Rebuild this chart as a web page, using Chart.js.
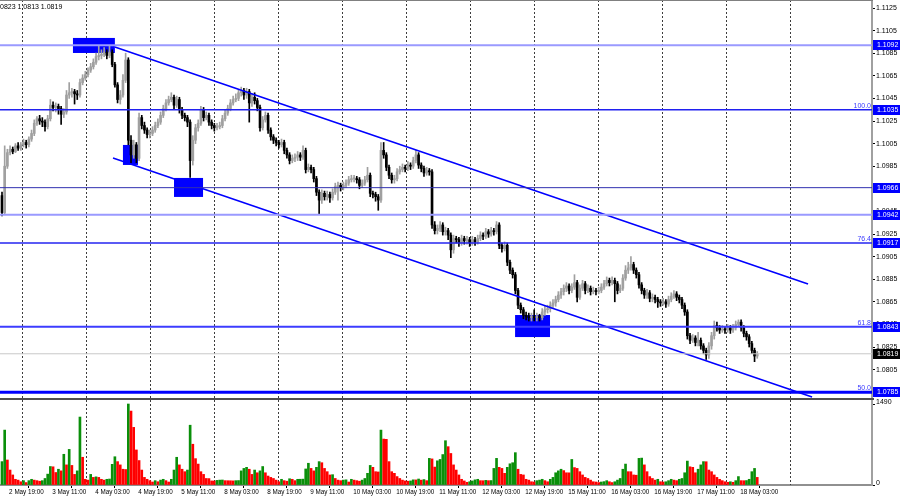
<!DOCTYPE html>
<html>
<head>
<meta charset="utf-8">
<script src="https://cdn.jsdelivr.net/npm/chart.js@4.4.0/dist/chart.umd.min.js"></script>
<style>
  html, body { margin: 0; padding: 0; background: #fff; }
  #wrap { position: relative; width: 900px; height: 500px; overflow: hidden; background: #fff; }
  #price { position: absolute; left: 0; top: 0; }
  #volume { position: absolute; left: 0; top: 398px; }
</style>
</head>
<body>
<div id="wrap">
  <canvas id="price" width="900" height="398"></canvas>
  <canvas id="volume" width="900" height="102"></canvas>
</div>
<script>
// EURUSD H1, one bar per hour from 2 May 17:00 to 18 May 10:00
// prices are kept in pips above 1.0000 (944 -> 1.0944)
const firstOpen = 959
const closePips = [
  944,985,997,1000,998,1003,1001,1004,1006,1004,
  1009,1014,1023,1027,1025,1024,1020,1027,1039,1037,
  1038,1036,1031,1033,1048,1050,1051,1049,1048,1059,
  1063,1066,1070,1073,1077,1082,1083,1084,1086,1083,
  1086,1075,1057,1044,1048,1061,1079,1008,995,1004,
  992,1028,1021,1017,1013,1014,1017,1021,1024,1030,
  1036,1041,1044,1046,1039,1044,1035,1030,1028,1024,
  990,1008,1019,1023,1035,1028,1030,1024,1021,1019,
  1020,1021,1027,1032,1036,1041,1044,1045,1050,1052,
  1048,1051,1041,1046,1043,1037,1019,1026,1030,1017,
  1011,1008,1006,1004,1006,999,995,990,992,993,
  995,993,999,982,984,982,974,962,955,961,
  958,960,957,962,967,968,966,968,970,973,
  974,974,973,968,970,973,977,961,960,958,
  955,999,995,984,977,973,974,980,982,984,
  983,986,985,990,995,986,983,979,981,980,
  933,928,930,933,927,928,924,911,921,920,
  917,921,919,920,917,920,918,921,924,923,
  927,925,928,927,933,915,912,915,900,893,
  889,875,862,858,853,852,851,852,851,852,
  851,856,858,859,862,864,867,871,874,877,
  879,875,878,882,869,877,881,875,877,874,
  875,874,875,878,881,884,882,884,881,875,
  877,886,893,895,898,893,889,880,875,871,
  873,868,869,867,865,864,865,863,867,870,
  872,869,867,862,856,835,831,833,829,831,
  826,822,818,826,835,844,842,840,841,840,
  842,840,842,845,847,842,837,834,828,822,
  817,819
]
const highPips = [
  962,1003,1000,1003,1002,1005,1006,1006,1009,1008,
  1011,1017,1026,1029,1030,1028,1026,1030,1044,1042,
  1041,1040,1038,1036,1052,1059,1054,1053,1052,1062,
  1066,1069,1072,1076,1080,1085,1092,1088,1090,1088,
  1092,1088,1077,1059,1052,1066,1085,1081,1012,1008,
  1006,1032,1030,1024,1019,1017,1020,1024,1027,1033,
  1039,1044,1047,1050,1048,1047,1046,1037,1032,1030,
  1026,1012,1022,1026,1038,1037,1033,1032,1026,1023,
  1023,1024,1030,1035,1039,1044,1047,1049,1053,1055,
  1054,1054,1053,1049,1050,1045,1039,1029,1033,1032,
  1019,1013,1010,1008,1009,1008,1001,997,995,996,
  998,997,1003,1001,987,986,984,976,964,964,
  963,963,962,965,970,971,970,971,973,976,
  977,977,976,975,973,976,984,979,963,962,
  960,1006,1006,997,986,979,977,983,985,987,
  986,989,988,993,999,997,988,985,984,983,
  982,936,933,936,935,931,930,926,924,923,
  922,924,923,923,922,923,922,924,927,926,
  930,929,931,930,936,935,917,918,917,902,
  895,891,877,864,860,856,855,855,858,855,
  854,859,861,862,865,867,870,874,877,880,
  882,881,881,889,884,880,884,883,880,879,
  878,877,878,881,884,887,886,887,886,883,
  880,889,897,900,905,900,895,891,882,877,
  876,875,872,871,869,867,868,867,870,873,
  875,874,871,869,864,858,837,836,835,838,
  833,828,824,829,838,848,847,844,844,843,
  845,844,845,848,849,849,844,839,836,830,
  824,821
]
const lowPips = [
  941,942,983,995,996,997,999,999,1002,1001,
  1002,1007,1012,1021,1022,1020,1016,1018,1025,1034,
  1033,1031,1022,1028,1031,1045,1046,1040,1044,1046,
  1057,1061,1064,1068,1071,1075,1079,1080,1082,1080,
  1081,1073,1055,1041,1040,1046,1059,1004,988,992,
  988,990,1018,1014,1010,1010,1012,1015,1019,1022,
  1028,1034,1039,1042,1036,1037,1032,1027,1025,1020,
  975,986,1005,1016,1021,1025,1026,1021,1018,1016,
  1017,1018,1019,1025,1030,1034,1039,1042,1043,1047,
  1044,1045,1024,1038,1040,1034,1016,1017,1024,1014,
  1008,1005,1003,1001,1002,996,992,987,988,989,
  990,990,991,979,980,979,971,959,943,952,
  955,955,953,955,960,955,963,964,966,968,
  971,971,970,965,966,968,971,958,957,954,
  946,953,992,981,974,970,970,972,978,980,
  980,981,982,983,988,983,980,976,977,977,
  930,925,925,927,924,924,920,904,908,917,
  914,915,916,916,914,915,915,916,919,920,
  921,922,923,924,925,912,909,910,897,890,
  886,872,859,855,850,849,848,848,848,848,
  848,849,853,855,856,859,861,865,868,871,
  874,872,873,876,865,867,875,872,873,871,
  872,871,872,873,876,879,879,880,865,872,
  873,875,884,890,893,890,886,877,872,868,
  868,865,865,864,860,861,862,860,861,865,
  868,866,864,859,853,832,828,829,826,826,
  823,819,814,815,823,832,839,837,838,837,
  838,837,838,840,843,839,834,831,825,819,
  812,815
]
const volumes = [
  430,1010,460,275,185,105,90,60,80,45,
  80,105,90,80,70,80,120,200,340,335,
  230,290,260,565,370,655,360,195,260,1250,
  510,105,90,195,140,150,140,105,90,105,
  110,380,520,430,370,290,285,1490,1360,1060,
  645,450,275,140,105,80,55,80,60,90,
  105,80,55,105,275,510,370,290,245,275,
  1100,750,485,385,245,195,120,118,75,74,
  85,90,92,80,79,78,76,80,82,260,
  305,325,290,195,275,225,260,340,225,165,
  140,120,90,60,105,80,70,115,105,80,
  105,106,108,295,400,305,260,325,430,410,
  305,245,185,190,120,90,80,90,95,55,
  105,90,80,70,90,120,215,360,325,245,
  240,1010,845,840,430,245,215,155,120,90,
  75,70,75,95,94,110,90,100,80,490,
  480,330,445,470,560,815,705,580,370,275,
  185,105,75,50,60,75,95,105,80,79,
  85,80,82,305,490,325,305,215,325,390,
  410,595,290,195,185,105,90,60,55,80,
  90,105,80,60,105,140,225,260,290,265,
  225,224,470,320,305,245,185,140,120,90,
  60,55,45,55,62,80,60,45,60,90,
  120,290,385,245,244,185,180,490,495,370,
  245,155,120,90,105,60,55,60,80,105,
  90,80,105,120,225,440,335,325,225,290,
  370,430,428,275,245,185,140,105,80,60,
  50,60,50,80,155,80,79,82,105,245,
  305,140
]
const timeLabels = ['2 May 19:00', '3 May 11:00', '4 May 03:00', '4 May 19:00', '5 May 11:00',
  '8 May 03:00', '8 May 19:00', '9 May 11:00', '10 May 03:00', '10 May 19:00', '11 May 11:00',
  '12 May 03:00', '12 May 19:00', '15 May 11:00', '16 May 03:00', '16 May 19:00',
  '17 May 11:00', '18 May 03:00']
const priceTicks = [1.1125, 1.1105, 1.1085, 1.1065, 1.1045, 1.1025, 1.1005, 1.0985, 1.0965,
  1.0945, 1.0925, 1.0905, 1.0885, 1.0865, 1.0845, 1.0825, 1.0805, 1.0785]
const volumeTicks = [0, 1490]
const levels = [1.1092, 1.1035, 1.0966, 1.0942, 1.0917, 1.0843, 1.0819, 1.0785]
const fiboTags = ['', '100.0', '', '', '76.4', '61.8', '', '50.0']
// trend channel, [bar, price] end points
const channelTop = [[42.0, 1.10905], [299.9, 1.08808]]
const channelBottom = [[41.3, 1.09923], [301.4, 1.07808]]
// marked zones: [from bar, to bar, top price, bottom price]
const zones = [
  [26.4, 42.0, 1.10985, 1.10852],
  [45.0, 50.6, 1.10038, 1.09861],
  [64.0, 74.8, 1.09746, 1.09578],
  [190.9, 203.9, 1.08533, 1.08338]
]
const quoteLine = '0823 1.0813 1.0819'

// styling
const levelColors = ['#9a9aff', '#2020f0', '#3030b0', '#9a9aff', '#2525f0', '#3c3cff', '#c8c8c8', '#0000ff']
const levelWidths = [2, 1.5, 1, 2, 1.5, 2, 1, 3]
const levelBoxColors = ['#0000ff', '#0000ff', '#0000ff', '#0000ff', '#0000ff', '#0000ff', '#000000', '#0000ff']
const BULL = '#a0a0a0'
const BEAR = '#000000'
const VOL_UP = '#0a8f0a'
const VOL_DOWN = '#ff0000'
const FONT = 'Liberation Sans'

Chart.defaults.font.family = FONT
Chart.defaults.font.size = 7
Chart.defaults.color = '#000'

const toPrice = p => 1 + p / 10000
const opens = closePips.map((c, i) => i === 0 ? firstOpen : closePips[i - 1])
const candleColors = closePips.map((c, i) => c >= opens[i] ? BULL : BEAR)
const volColors = volumes.map((v, i) => i === 0 || v > volumes[i - 1] ? VOL_UP : VOL_DOWN)

const X_MIN = -0.744
const X_MAX = 323.7

function noPad(s) {
  s.paddingTop = 0
  s.paddingBottom = 0
  s.paddingLeft = 0
  s.paddingRight = 0
}

function drawGrid(ctx, area, x) {
  ctx.save()
  ctx.strokeStyle = '#3c3c3c'
  ctx.lineWidth = 1
  ctx.setLineDash([2, 2])
  for (let k = 0; k < 13; k++) {
    const px = Math.round(x.getPixelForValue(7.44 + 23.81 * k)) + 0.5
    ctx.beginPath()
    ctx.moveTo(px, area.top)
    ctx.lineTo(px, area.bottom)
    ctx.stroke()
  }
  ctx.restore()
}

const priceOverlay = {
  id: 'priceOverlay',
  beforeDatasetsDraw(chart) {
    const { ctx, chartArea: a, scales: { x, y } } = chart
    drawGrid(ctx, a, x)
    ctx.save()
    ctx.fillStyle = '#0000ff'
    zones.forEach(([b0, b1, hi, lo]) => {
      const x0 = x.getPixelForValue(b0)
      const x1 = x.getPixelForValue(b1)
      const y0 = y.getPixelForValue(hi)
      const y1 = y.getPixelForValue(lo)
      ctx.fillRect(x0, y0, x1 - x0, y1 - y0)
    })
    ctx.restore()
  },
  afterDatasetsDraw(chart) {
    const { ctx, chartArea: a, scales: { y } } = chart
    ctx.save()
    levels.forEach((lv, i) => {
      const py = y.getPixelForValue(lv)
      ctx.strokeStyle = levelColors[i]
      ctx.lineWidth = levelWidths[i]
      ctx.beginPath()
      ctx.moveTo(a.left, py)
      ctx.lineTo(a.right, py)
      ctx.stroke()
    })
    ctx.restore()
  },
  afterDraw(chart) {
    const { ctx, chartArea: a, scales: { y } } = chart
    ctx.save()
    // top frame
    ctx.fillStyle = '#808080'
    ctx.fillRect(0, 0, a.right + 1, 1)
    ctx.font = '7px ' + FONT
    ctx.textBaseline = 'alphabetic'
    // fibo tags
    ctx.fillStyle = '#3a3aff'
    ctx.textAlign = 'right'
    levels.forEach((lv, i) => {
      if (!fiboTags[i]) return
      ctx.fillText(fiboTags[i], a.right - 1, y.getPixelForValue(lv) - 2)
    })
    // price boxes on the axis
    ctx.textAlign = 'left'
    ctx.textBaseline = 'middle'
    levels.forEach((lv, i) => {
      const py = Math.round(y.getPixelForValue(lv))
      ctx.fillStyle = levelBoxColors[i]
      ctx.fillRect(a.right + 1, py - 5, 900 - a.right - 1, 10)
      ctx.fillStyle = '#fff'
      ctx.fillText(lv.toFixed(4), a.right + 5, py + 0.5)
    })
    // quote line at the top left
    ctx.fillStyle = '#000'
    ctx.textBaseline = 'alphabetic'
    ctx.fillText(quoteLine, 0, 9)
    ctx.restore()
  }
}

new Chart(document.getElementById('price'), {
  type: 'bar',
  data: {
    datasets: [
      {
        label: 'wicks',
        data: closePips.map((c, i) => ({ x: i, y: [toPrice(lowPips[i]), toPrice(highPips[i])] })),
        backgroundColor: candleColors,
        barThickness: 1,
        grouped: false,
        order: 3
      },
      {
        label: 'bodies',
        data: closePips.map((c, i) => ({ x: i, y: [toPrice(opens[i]), toPrice(c)] })),
        backgroundColor: candleColors,
        barThickness: 2,
        minBarLength: 1,
        grouped: false,
        order: 2
      },
      {
        type: 'line',
        label: 'channel top',
        data: channelTop.map(([b, p]) => ({ x: b, y: p })),
        borderColor: '#0000ff',
        borderWidth: 1.6,
        pointRadius: 0,
        order: 1
      },
      {
        type: 'line',
        label: 'channel bottom',
        data: channelBottom.map(([b, p]) => ({ x: b, y: p })),
        borderColor: '#0000ff',
        borderWidth: 1.6,
        pointRadius: 0,
        order: 1
      }
    ]
  },
  options: {
    responsive: false,
    animation: false,
    devicePixelRatio: 1,
    events: [],
    layout: { padding: 0 },
    plugins: { legend: { display: false }, tooltip: { enabled: false } },
    scales: {
      x: { type: 'linear', min: X_MIN, max: X_MAX, offset: false, display: false },
      y: {
        position: 'right',
        min: 1.077987,
        max: 1.113208,
        afterBuildTicks: s => { s.ticks = priceTicks.map(v => ({ value: v })) },
        afterFit: s => { s.width = 28; noPad(s) },
        border: { color: '#a0a0a0', width: 2 },
        grid: { drawOnChartArea: false, drawTicks: true, tickLength: 3, color: '#000' },
        ticks: { autoSkip: false, padding: 1, color: '#000', callback: v => v.toFixed(4) }
      }
    }
  },
  plugins: [priceOverlay]
})

const volumeOverlay = {
  id: 'volumeOverlay',
  beforeDatasetsDraw(chart) {
    drawGrid(chart.ctx, chart.chartArea, chart.scales.x)
  },
  afterDraw(chart) {
    const { ctx, chartArea: a } = chart
    ctx.save()
    ctx.fillStyle = '#505050'
    ctx.fillRect(0, 0, a.right + 2, 2)
    ctx.restore()
  }
}

new Chart(document.getElementById('volume'), {
  type: 'bar',
  data: {
    datasets: [{
      label: 'volume',
      data: volumes.map((v, i) => ({ x: i, y: v })),
      backgroundColor: volColors,
      barThickness: 2,
      grouped: false
    }]
  },
  options: {
    responsive: false,
    animation: false,
    devicePixelRatio: 1,
    events: [],
    layout: { padding: { top: 2 } },
    plugins: { legend: { display: false }, tooltip: { enabled: false } },
    scales: {
      x: {
        type: 'linear',
        min: X_MIN,
        max: X_MAX,
        offset: false,
        afterBuildTicks: s => { s.ticks = timeLabels.map((t, j) => ({ value: 2 + 16 * j })) },
        afterFit: s => { s.height = 15; noPad(s) },
        border: { color: '#909090', width: 2 },
        grid: { drawOnChartArea: false, drawTicks: true, tickLength: 3, color: '#000' },
        ticks: {
          autoSkip: false, maxRotation: 0, minRotation: 0, align: 'start', padding: 0,
          color: '#000', font: { size: 6.3 }, callback: (v, i) => ' ' + timeLabels[i]
        }
      },
      y: {
        position: 'right',
        min: 0,
        max: 1563.6,
        afterBuildTicks: s => { s.ticks = volumeTicks.map(v => ({ value: v })) },
        afterFit: s => { s.width = 28; noPad(s) },
        border: { color: '#a0a0a0', width: 2 },
        grid: { drawOnChartArea: false, drawTicks: true, tickLength: 3, color: '#000' },
        ticks: { autoSkip: false, padding: 1, color: '#000', labelOffset: -2, callback: v => String(v) }
      }
    }
  },
  plugins: [volumeOverlay]
})
</script>
</body>
</html>
